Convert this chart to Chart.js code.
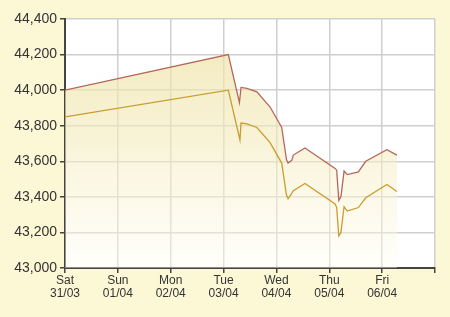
<!DOCTYPE html>
<html>
<head>
<meta charset="utf-8">
<script src="https://cdn.jsdelivr.net/npm/chart.js@4"></script>
<style>
html,body{margin:0;padding:0;background:#fcf8d6;}
#wrap{width:450px;height:317px;}
</style>
</head>
<body>
<div id="wrap"><canvas id="c" width="450" height="317"></canvas></div>
<script>
// x positions in days since Sat 31/03 00:00
const upperX = [0, 3.09, 3.30, 3.33, 3.44, 3.63, 3.88, 4.10, 4.19, 4.22, 4.29, 4.32, 4.54, 5.11, 5.14, 5.18, 5.22, 5.28, 5.34, 5.55, 5.69, 6.09, 6.28];
const upperY = [44000, 44200, 43930, 44015, 44010, 43990, 43905, 43790, 43610, 43590, 43605, 43635, 43675, 43560, 43550, 43380, 43400, 43545, 43525, 43540, 43600, 43665, 43635];
const lowerX = [0, 3.09, 3.31, 3.33, 3.44, 3.63, 3.88, 4.10, 4.19, 4.22, 4.29, 4.32, 4.54, 5.11, 5.14, 5.18, 5.22, 5.28, 5.34, 5.55, 5.69, 6.09, 6.28];
const lowerY = [43850, 44000, 43720, 43815, 43810, 43790, 43705, 43590, 43410, 43390, 43420, 43435, 43475, 43360, 43340, 43180, 43200, 43345, 43320, 43340, 43395, 43470, 43430];
const dayNames = ['Sat', 'Sun', 'Mon', 'Tue', 'Wed', 'Thu', 'Fri', ''];
const dayDates = ['31/03', '01/04', '02/04', '03/04', '04/04', '05/04', '06/04', ''];
const yTicks = [43000, 43200, 43400, 43600, 43800, 44000, 44200, 44400];

const toPts = (xs, ys) => xs.map((x, i) => ({x: x, y: ys[i]}));

const bgPlugin = {
  id: 'plotbg',
  beforeDraw(chart) {
    const {ctx, chartArea: a} = chart;
    ctx.save();
    ctx.fillStyle = '#ffffff';
    ctx.fillRect(a.left, a.top, a.right - a.left, a.bottom - a.top);
    ctx.restore();
  }
};

const ctx = document.getElementById('c').getContext('2d');
function grad(context) {
  const a = context.chart.chartArea;
  if (!a) return 'rgba(240,228,170,0.7)';
  const g = context.chart.ctx.createLinearGradient(0, a.top, 0, a.bottom);
  g.addColorStop(0, 'rgba(236,224,160,0.75)');
  g.addColorStop(0.5, 'rgba(244,236,190,0.6)');
  g.addColorStop(1, 'rgba(255,253,240,0.4)');
  return g;
}

new Chart(ctx, {
  type: 'line',
  data: {
    datasets: [
      {
        data: toPts(upperX, upperY),
        borderColor: '#b5675a',
        borderWidth: 1.3,
        pointRadius: 0,
        tension: 0,
        fill: 'origin',
        backgroundColor: grad,
        order: 2
      },
      {
        data: toPts(lowerX, lowerY),
        borderColor: '#c99d2e',
        borderWidth: 1.3,
        pointRadius: 0,
        tension: 0,
        fill: false,
        order: 1
      }
    ]
  },
  options: {
    responsive: false,
    animation: false,
    devicePixelRatio: 1,
    layout: {padding: {top: 19, right: 15, bottom: 0, left: 0}},
    plugins: {legend: {display: false}, tooltip: {enabled: false}},
    scales: {
      x: {
        type: 'linear',
        min: 0, max: 7,
        afterFit(s) { s.height = 49; },
        afterBuildTicks(s) { s.ticks = dayNames.map((d, i) => ({value: i})); },
        ticks: {
          autoSkip: false,
          maxRotation: 0,
          padding: 1,
          color: '#333',
          font: {family: 'Liberation Sans, Arial', size: 12, lineHeight: 1.1},
          callback: (v) => dayNames[v] ? [dayNames[v], dayDates[v]] : ''
        },
        grid: {color: '#cfcfcf', lineWidth: 1.5, tickColor: '#444', tickLength: 5, drawOnChartArea: true},
        border: {color: '#444', width: 2}
      },
      y: {
        min: 43000, max: 44400,
        afterFit(s) { s.width = 65; },
        afterBuildTicks(s) { s.ticks = yTicks.map(v => ({value: v})); },
        ticks: {
          padding: 3,
          color: '#333',
          font: {family: 'Liberation Sans, Arial', size: 14},
          callback: (v) => v.toLocaleString('en-US')
        },
        grid: {color: '#cfcfcf', lineWidth: 1.5, tickColor: '#444', tickLength: 5},
        border: {color: '#444', width: 2}
      }
    }
  },
  plugins: [bgPlugin]
});
</script>
</body>
</html>
